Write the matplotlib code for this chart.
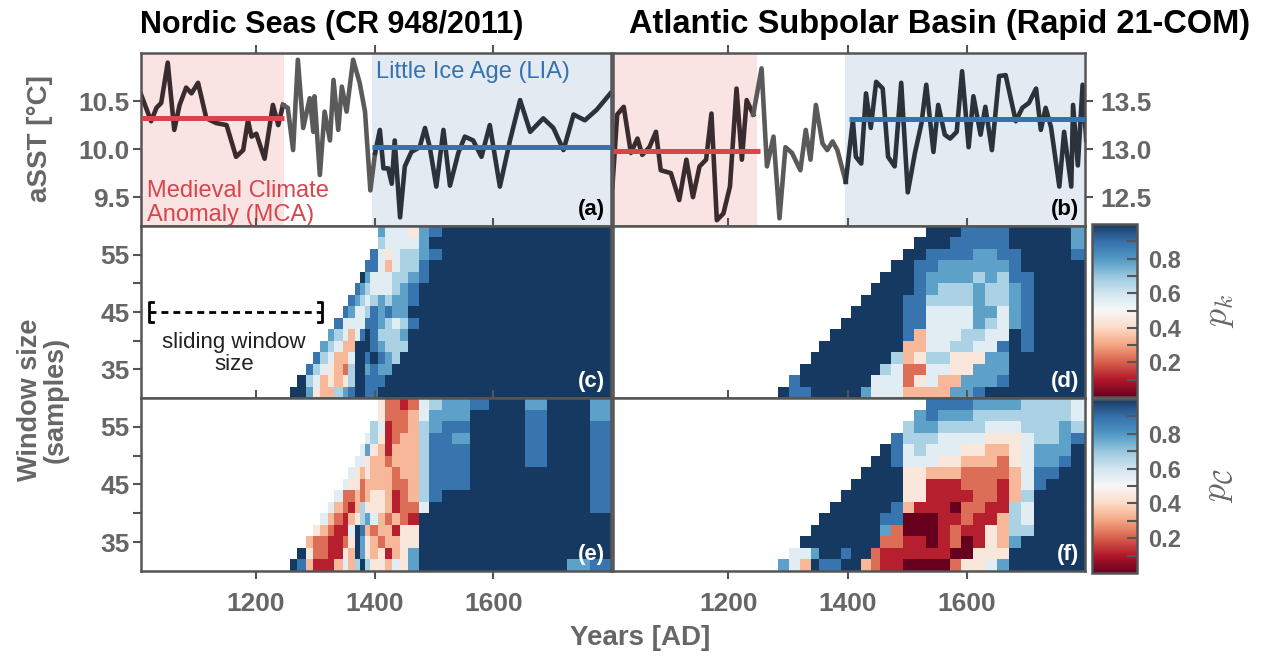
import numpy as np
import matplotlib.pyplot as plt
from matplotlib.colors import ListedColormap, rgb_to_hsv, hsv_to_rgb

plt.rcParams['font.family'] = ['Liberation Sans', 'DejaVu Sans']
plt.rcParams['font.weight'] = 'bold'
plt.rcParams['mathtext.fontset'] = 'cm'

GREY = '#666666'
FRAME = '#555555'
RED = '#d8454b'
BLUE = '#3373b1'
MCA_BG = '#f9e3e3'
LIA_BG = '#e3eaf2'

# ---- aSST series (years AD, degC) (a) and (b) ----
nordic_years = [1007, 1024, 1033, 1041, 1052, 1063, 1072, 1083, 1092, 1103, 1117, 1134, 1151, 1167,
                1179, 1187, 1193, 1201, 1215, 1229, 1238, 1246,
                1254, 1263, 1271, 1280, 1291, 1297, 1299, 1308, 1316, 1325, 1331, 1339, 1345, 1353,
                1364, 1375, 1384, 1393,
                1401, 1409, 1415, 1423, 1429, 1434, 1443, 1451, 1462, 1476, 1485, 1493, 1504, 1516,
                1527, 1541, 1552, 1566, 1580, 1594, 1611, 1628, 1645, 1662, 1684, 1701, 1718, 1735,
                1754, 1774, 1797]
nordic_sst = [10.57, 10.29, 10.43, 10.48, 10.90, 10.20, 10.46, 10.64, 10.58, 10.69, 10.32, 10.27, 10.25, 9.92,
              9.99, 10.30, 10.13, 10.16, 9.90, 10.46, 10.25, 10.46,
              10.43, 9.99, 10.93, 10.22, 10.53, 10.18, 10.55, 9.73, 10.39, 10.09, 10.72, 10.20, 10.65, 10.39,
              10.93, 10.69, 10.39, 9.57,
              9.96, 10.20, 9.80, 9.80, 9.64, 10.09, 9.29, 9.82, 9.97, 10.02, 10.22, 10.02, 9.61, 10.20,
              9.62, 9.96, 10.13, 10.09, 9.92, 10.25, 9.61, 10.09, 10.51, 10.18, 10.32, 10.22, 9.99, 10.36,
              10.30, 10.41, 10.58]

atlantic_years = [1006, 1014, 1025, 1037, 1048, 1056, 1068, 1079, 1087, 1104, 1118, 1130, 1141, 1152,
                  1163, 1172, 1181, 1192, 1203, 1214, 1223, 1231, 1242,
                  1256, 1265, 1276, 1286, 1296, 1307, 1321, 1330, 1338, 1347, 1358, 1366, 1375, 1383,
                  1397, 1409, 1414, 1423, 1431, 1439, 1448, 1459, 1468, 1479, 1490, 1501, 1513, 1524,
                  1532, 1544, 1552, 1563, 1572, 1583, 1592, 1603, 1611, 1623, 1631, 1642, 1654, 1665,
                  1682, 1693, 1704, 1716, 1724, 1732, 1741, 1755, 1763, 1775, 1778, 1786, 1794, 1800]
atlantic_sst = [12.61, 13.36, 13.44, 12.96, 13.11, 12.94, 13.02, 13.18, 12.78, 12.75, 12.47, 12.89, 12.50, 12.82,
                12.89, 13.37, 12.26, 12.33, 12.61, 13.63, 12.89, 13.51, 13.36,
                13.84, 12.82, 13.13, 12.28, 13.02, 12.96, 12.78, 13.20, 12.89, 13.46, 13.06, 12.99, 13.08, 12.99,
                12.66, 13.30, 12.92, 12.85, 13.58, 13.22, 13.70, 13.63, 12.92, 12.82, 13.69, 12.55, 12.96, 13.27,
                13.67, 12.97, 13.46, 13.15, 13.11, 13.18, 13.81, 13.02, 13.55, 13.15, 13.44, 12.99, 13.76, 13.77,
                13.29, 13.43, 13.48, 13.63, 13.20, 13.43, 13.23, 12.61, 13.18, 12.61, 13.46, 12.83, 13.67, 13.09]

mca_end = 1248
lia_start = 1396
nordic_means = (10.32, 10.02)
atlantic_means = (12.98, 13.31)

# ---- sliding window results ----
window_edges = [30, 32, 34, 36, 38, 40, 42, 44, 46, 48, 50, 52, 54, 56, 58, 60]
nordic_cols = [1257, 1270, 1285, 1297, 1308, 1322, 1331, 1347, 1356, 1367, 1375, 1384, 1392, 1406, 1417,
               1429, 1443, 1457, 1475, 1492, 1513, 1530, 1561, 1592, 1622, 1653, 1690, 1724, 1763, 1800]
atlantic_cols = [1284, 1302, 1320, 1338, 1352, 1371, 1389, 1406, 1422, 1439, 1455, 1473, 1493, 1511,
                 1532, 1552, 1572, 1591, 1611, 1631, 1651, 1670, 1690, 1713, 1732, 1755, 1775, 1800]

# rows from the largest window down; digit d means p = d/9, '.' means no value
nordic_pk = [
    "............." + "7555478" + "999999999",
    "............." + "655557" + "9999999999",
    "............" + "85456678" + "999999999",
    "..........." + "88535668" + "9999999999",
    ".........." + "975556678" + "9999999999",
    "........." + "876555678" + "99999999999",
    "........" + "8765676778" + "99999999999",
    "......." + "87556878779" + "99999999999",
    "......" + "855558876568" + "99999999999",
    "....." + "7653589866679" + "99999999999",
    "...." + "7653399987666" + "999999999999",
    "..." + "8653359989876" + "9999999999999",
    ".." + "86543269978779" + "9999999999999",
    "." + "96534346998889" + "99999999999999",
    "99743367899889" + "999999999999999",
]
nordic_pc = [
    "............." + "4221256778997997",
    "............." + "4222357779998997",
    "............" + "65122367889998998",
    "..........." + "564123368879998998",
    ".........." + "5743133368889998998",
    "........." + "55433233368889998998",
    "........" + "543433323368889999998",
    "......." + "5442333322368889999998",
    "......" + "52232344312368999999998",
    "....." + "532136444312259999999998",
    "...." + "5321346753232199999999999",
    "..." + "43211598323314499999999999",
    ".." + "3221124974323344" + "99999999999",
    "." + "94221143974341347" + "99999999999",
    "9831113536964" + "43547" + "999999999" + "78",
]
atlantic_pk = [
    ".............." + "9998888999997",
    "............." + "99988888999997",
    "............" + "998888778899998",
    "..........." + "9988777777899999",
    ".........." + "99987777676889999",
    "........." + "999987666766789999",
    "........" + "9999886666766789999",
    "......." + "99999885555775789999",
    "......" + "999999885555765789999",
    "....." + "9999999835556655989999",
    "...." + "99999999335566558989999",
    "..." + "999999996346644477999999",
    ".." + "9999999965225544777999999",
    "." + "89999999555245337778999999",
    "988999997555333377899999999",
]
atlantic_pc = [
    ".............." + "8888777766665",
    "............." + "78777666666665",
    "............" + "677666655566676",
    "..........." + "8666555544456678",
    ".........." + "98565554433457779",
    "........." + "998555443332457789",
    "........" + "9999443332222358899",
    "......." + "99999441112221358999",
    "......" + "999999441111221369999",
    "....." + "9999998311102211659999",
    "...." + "99999988000112113659999",
    "..." + "999999972000121143669999",
    ".." + "9999999922110120143799999",
    "." + "55799899211111100444999999",
    "753988993211000024457999999",
]

year_ticks = [1200, 1400, 1600]
XLIM = (1007, 1798)

# RdBu with the blue half slightly muted, as in the original figure
rgb = plt.get_cmap('RdBu')(np.linspace(0, 1, 256))[:, :3]
hsv = rgb_to_hsv(rgb)
hsv[128:, 1] *= np.linspace(1.0, 0.82, 128)
CMAP = ListedColormap(hsv_to_rgb(hsv))


def decode(rows, ncol):
    grid = []
    for r in rows[::-1]:
        assert len(r) == ncol, (len(r), ncol, r)
        grid.append([np.nan if ch == '.' else int(ch) / 9 for ch in r])
    return np.ma.masked_invalid(np.array(grid))


fig = plt.figure(figsize=(12.62, 6.6), dpi=100)
W, H = 1262, 660


def axes_px(x0, y0, x1, y1):
    return fig.add_axes([x0 / W, 1 - y1 / H, (x1 - x0) / W, (y1 - y0) / H])


ax_a = axes_px(141, 53, 611, 226)
ax_c = axes_px(141, 226, 611, 398)
ax_e = axes_px(141, 398, 611, 571)
ax_b = axes_px(613, 53, 1085, 226)
ax_d = axes_px(613, 226, 1085, 398)
ax_f = axes_px(613, 398, 1085, 571)
cax_k = axes_px(1092, 224, 1137, 397)
cax_c = axes_px(1092, 399, 1137, 573)


def frame(ax, labels=False):
    for s in ax.spines.values():
        s.set_color(FRAME)
        s.set_linewidth(1.8)
    ax.set_xlim(XLIM)
    ax.set_xticks(year_ticks)
    ax.tick_params(axis='x', top=True, bottom=True, direction='out', length=6, width=1.5,
                   color=FRAME, labelbottom=labels, labelsize=19, labelcolor=GREY, pad=9)
    ax.tick_params(axis='y', direction='out', length=6, width=1.5, color=FRAME,
                   labelsize=19, labelcolor=GREY, pad=2)


def draw_series(ax, years, sst, means, mca_stop, lia_go):
    years = np.asarray(years)
    sst = np.asarray(sst)
    ax.axvspan(XLIM[0], mca_end, color=MCA_BG, lw=0, zorder=0)
    ax.axvspan(lia_start, XLIM[1], color=LIA_BG, lw=0, zorder=0)
    i0 = np.where(years <= mca_end)[0][-1]
    i1 = np.where(years >= lia_start)[0][0]
    ax.plot(years[:i0 + 1], sst[:i0 + 1], color='#3a2c2e', lw=3.3, zorder=2)
    ax.plot(years[i0:i1 + 1], sst[i0:i1 + 1], color='#5a5a5a', lw=3.3, zorder=2)
    ax.plot(years[i1:], sst[i1:], color='#2c323c', lw=3.3, zorder=2)
    ax.hlines(means[0], XLIM[0], mca_stop, color=RED, lw=3.6, zorder=3)
    ax.hlines(means[1], lia_go, XLIM[1] + 10, color=BLUE, lw=3.6, zorder=3)


# top row: aSST
draw_series(ax_a, nordic_years, nordic_sst, nordic_means, 1248, 1396)
frame(ax_a)
ax_a.set_ylim(9.2, 11.0)
ax_a.set_yticks([9.5, 10.0, 10.5])
ax_a.set_yticklabels(['9.5', '10.0', '10.5'])
ax_a.text(1403, 10.74, 'Little Ice Age (LIA)', color=BLUE, fontsize=17, fontweight='normal')
ax_a.text(1017, 9.205, 'Medieval Climate\nAnomaly (MCA)', color=RED, fontsize=17,
          fontweight='normal', va='bottom', linespacing=1.1)

draw_series(ax_b, atlantic_years, atlantic_sst, atlantic_means, 1253, 1402)
frame(ax_b)
ax_b.set_ylim(12.2, 14.0)
ax_b.set_yticks([12.5, 13.0, 13.5])
ax_b.set_yticklabels(['12.5', '13.0', '13.5'])
ax_b.yaxis.tick_right()
ax_b.tick_params(axis='y', pad=5)

# heatmaps
panels = [(ax_c, nordic_cols, nordic_pk), (ax_e, nordic_cols, nordic_pc),
          (ax_d, atlantic_cols, atlantic_pk), (ax_f, atlantic_cols, atlantic_pc)]
meshes = []
for ax, cols, rows in panels:
    z = decode(rows, len(cols) - 1)
    m = ax.pcolormesh(cols, window_edges, z, cmap=CMAP, vmin=0, vmax=1,
                      shading='flat', antialiased=False, linewidth=0)
    meshes.append(m)
    frame(ax, labels=ax in (ax_e, ax_f))
    ax.set_ylim(30, 60)

for ax in (ax_c, ax_e):
    ax.set_yticks([35, 40, 45, 50, 55])
    ax.set_yticklabels(['35', '', '45', '', '55'])
for ax in (ax_d, ax_f):
    ax.set_yticks([])

# sliding window bracket
ax_c.plot([1021, 1311], [45, 45], color='k', lw=2, ls=(0, (2.5, 1.8)))
for x, d in [(1021, 1), (1311, -1)]:
    ax_c.plot([x + d * 6, x, x, x + d * 6], [46.8, 46.8, 43.2, 43.2], color='k', lw=2)
ax_c.text(1163, 37.8, 'sliding window\nsize', ha='center', va='center', fontsize=16,
          fontweight='normal', color='#222222', linespacing=1.05)

for ax, lab, col in [(ax_a, '(a)', 'k'), (ax_b, '(b)', 'k'), (ax_c, '(c)', 'white'),
                     (ax_d, '(d)', 'white'), (ax_e, '(e)', 'white'), (ax_f, '(f)', 'white')]:
    ax.text(0.988, 0.035, lab, transform=ax.transAxes, ha='right', va='bottom',
            fontsize=16, fontweight='bold', color=col, zorder=5)

# colorbars
cb_ticks = [0.1, 0.2, 0.3, 0.4, 0.5, 0.6, 0.7, 0.8, 0.9]
cb_labels = ['', '0.2', '', '0.4', '', '0.6', '', '0.8', '']
for cax, m, lab in [(cax_k, meshes[2], r'$p_k$'), (cax_c, meshes[3], r'$p_\mathcal{C}$')]:
    cb = fig.colorbar(m, cax=cax)
    cb.set_ticks(cb_ticks)
    cb.set_ticklabels(cb_labels)
    cb.outline.set_edgecolor(FRAME)
    cb.outline.set_linewidth(1.8)
    cax.tick_params(direction='in', length=7, width=1.5, color=FRAME, labelsize=17,
                    labelcolor=GREY, pad=8)
    cb.set_label(lab, fontsize=26, color=GREY, labelpad=14)

# titles and axis labels
fig.text(140 / W, 1 - 33 / H, 'Nordic Seas (CR 948/2011)', fontsize=22, color='k', va='baseline')
fig.text(940 / W, 1 - 33 / H, 'Atlantic Subpolar Basin (Rapid 21-COM)', fontsize=23.5, color='k',
         va='baseline', ha='center')
fig.text(40 / W, 1 - 139 / H, 'aSST [°C]', rotation=90, ha='center', va='center', fontsize=20, color=GREY)
fig.text(43 / W, 1 - 400 / H, 'Window size\n(samples)', rotation=90, ha='center', va='center',
         fontsize=19.5, color=GREY, linespacing=1.0)
fig.text(640 / W, 1 - 638 / H, 'Years [AD]', ha='center', va='center', fontsize=20, color=GREY)

fig.savefig('out.png', dpi=100)
